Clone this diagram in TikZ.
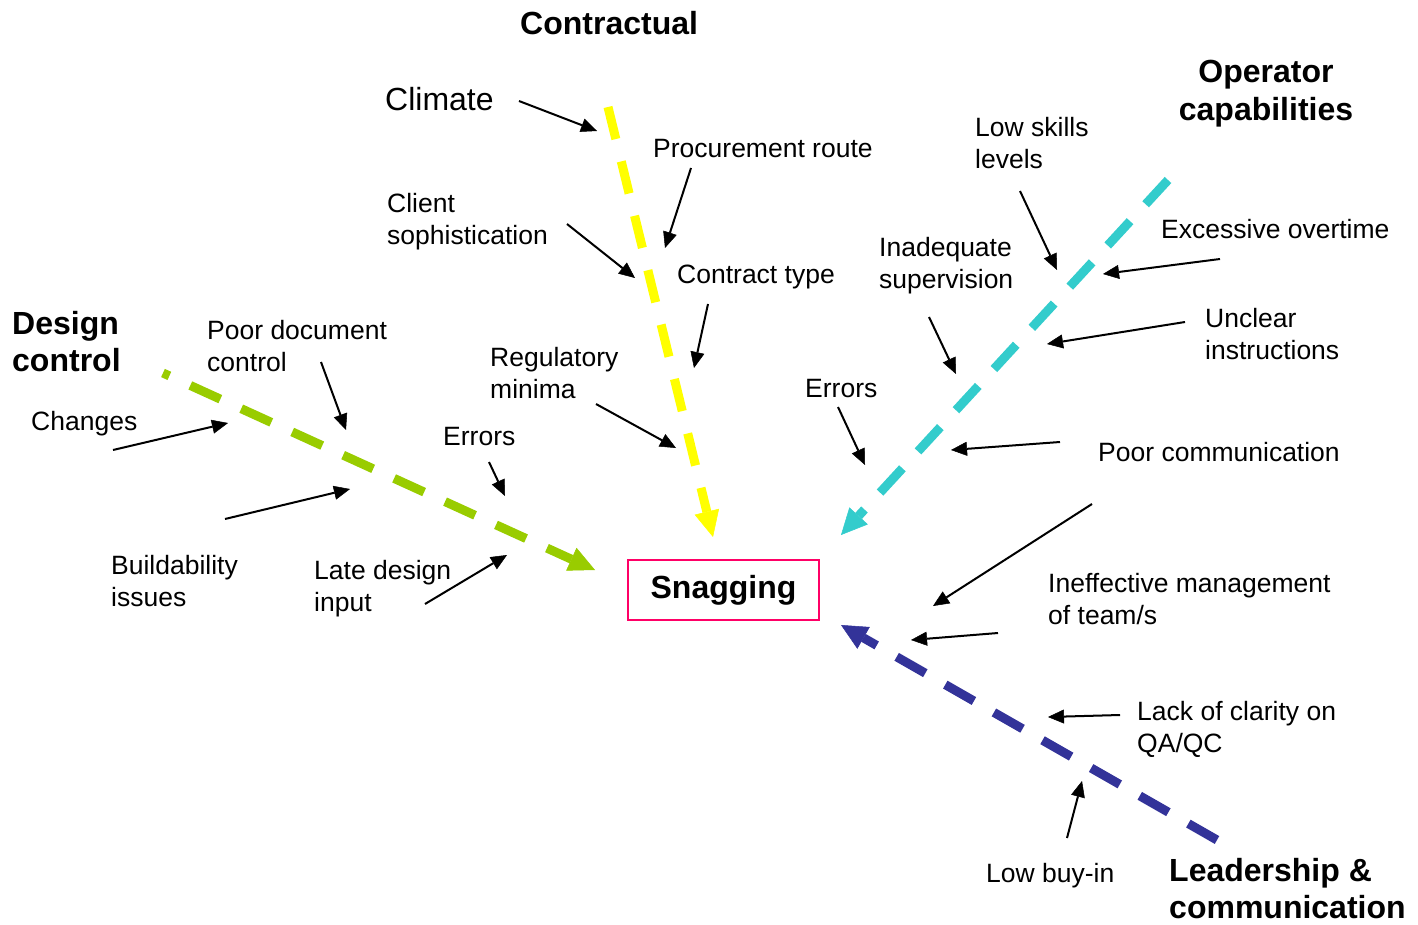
\documentclass[tikz,border=0pt]{standalone}
\usepackage{fontspec}
\setmainfont{Liberation Sans}
\usetikzlibrary{arrows.meta}
\definecolor{spineyellow}{HTML}{FFFF00}
\definecolor{spinegreen}{HTML}{99CC00}
\definecolor{spinecyan}{HTML}{33CCCC}
\definecolor{spineblue}{HTML}{333399}
\definecolor{boxred}{HTML}{FF0066}
\begin{document}
\begin{tikzpicture}[x=1pt,y=-1pt,
  lbl/.style={inner sep=0pt, anchor=north west, align=left, font=\fontsize{26.5}{32}\selectfont},
  heading/.style={inner sep=0pt, anchor=north west, align=left, font=\fontsize{32}{37.5}\selectfont\bfseries},
  cause/.style={line width=2pt, -{Triangle[length=16pt,width=14pt,line width=0.5pt]}},
  spine/.style={line width=9pt, dash pattern=on 33pt off 23pt, -{Triangle[length=26pt,width=25pt,line width=0.5pt]}},
]
\useasboundingbox (0,0) rectangle (1418,925);

% effect box
\node[draw=boxred, line width=2pt, minimum width=191pt, minimum height=60pt, inner sep=0pt,
      font=\fontsize{32}{37}\selectfont\bfseries] (snag) at (723.5,590) {\raisebox{-3pt}{Snagging}};

% category headings
\node[heading] (hcontract) at (520,11) {Contractual};
\node[heading, align=center, anchor=north] (hoper) at (1266,60) {Operator\\capabilities};
\node[heading] (hdesign) at (12,311) {Design\\control};
\node[heading] (hlead) at (1169,858) {Leadership \&\\communication};

% cause labels
\node[lbl, font=\fontsize{32}{37}\selectfont] (tclimate) at (385,87) {Climate};
\node[lbl] (tproc) at (653,139.5) {Procurement route};
\node[lbl] (tclient) at (387,193.5) {Client\\sophistication};
\node[lbl] (tctype) at (677,264.5) {Contract type};
\node[lbl] (treg) at (490,347.5) {Regulatory\\minima};
\node[lbl] (tpdc) at (207,320.5) {Poor document\\control};
\node[lbl] (tchanges) at (31,411.5) {Changes};
\node[lbl] (terrl) at (443,427.5) {Errors};
\node[lbl] (tbuild) at (111,555.5) {Buildability\\issues};
\node[lbl] (tlate) at (314,560.5) {Late design\\input};
\node[lbl] (tlow) at (975,117.5) {Low skills\\levels};
\node[lbl] (texc) at (1161,219.5) {Excessive overtime};
\node[lbl] (tinad) at (879,237.5) {Inadequate\\supervision};
\node[lbl] (tunc) at (1205,308.5) {Unclear\\instructions};
\node[lbl] (terrr) at (805,379.5) {Errors};
\node[lbl] (tpoor) at (1098,442.5) {Poor communication};
\node[lbl] (tineff) at (1048,573.5) {Ineffective management\\of team/s};
\node[lbl] (tlack) at (1137,701.5) {Lack of clarity on\\QA/QC};
\node[lbl] (tbuy) at (986,863.5) {Low buy-in};

% spine end points
\coordinate (ys) at (608,107);  \coordinate (ye) at (713,537);
\coordinate (gs) at (163,373);  \coordinate (ge) at (595,570);
\coordinate (cs) at (1168,180); \coordinate (ce) at (841,535);
\coordinate (bs) at (1217,840); \coordinate (be) at (841,625);

% main spines
\draw[spine, spineyellow] (ys) -- (ye);
\draw[spine, spinegreen, dash phase=26pt] (gs) -- (ge);
\draw[spine, spinecyan] (cs) -- (ce);
\draw[spine, spineblue] (bs) -- (be);

% cause arrow end points
\coordinate (a1s) at (519,101);   \coordinate (a1e) at (597,131);
\coordinate (a2s) at (691,168);   \coordinate (a2e) at (665,248);
\coordinate (a3s) at (567,224);   \coordinate (a3e) at (635,278);
\coordinate (a4s) at (708,304);   \coordinate (a4e) at (694,368);
\coordinate (a5s) at (596,404);   \coordinate (a5e) at (676,448);
\coordinate (a6s) at (321,362);   \coordinate (a6e) at (346,430);
\coordinate (a7s) at (113,450);   \coordinate (a7e) at (228,423);
\coordinate (a8s) at (225,519);   \coordinate (a8e) at (350,489);
\coordinate (a9s) at (489,462);   \coordinate (a9e) at (505,496);
\coordinate (a10s) at (425,604);  \coordinate (a10e) at (507,555);
\coordinate (a11s) at (1020,191); \coordinate (a11e) at (1057,270);
\coordinate (a12s) at (1220,259); \coordinate (a12e) at (1103,274);
\coordinate (a13s) at (1185,322); \coordinate (a13e) at (1047,344);
\coordinate (a14s) at (929,317);  \coordinate (a14e) at (956,374);
\coordinate (a15s) at (838,407);  \coordinate (a15e) at (865,465);
\coordinate (a16s) at (1060,442); \coordinate (a16e) at (951,450);
\coordinate (a17s) at (1092,504); \coordinate (a17e) at (933,606);
\coordinate (a18s) at (998,633);  \coordinate (a18e) at (911,640);
\coordinate (a19s) at (1120,715); \coordinate (a19e) at (1048,717);
\coordinate (a20s) at (1067,838); \coordinate (a20e) at (1082,781);

% cause arrows
\foreach \i in {1,...,20}{
  \draw[cause] (a\i s) -- (a\i e);
}
\end{tikzpicture}
\end{document}
